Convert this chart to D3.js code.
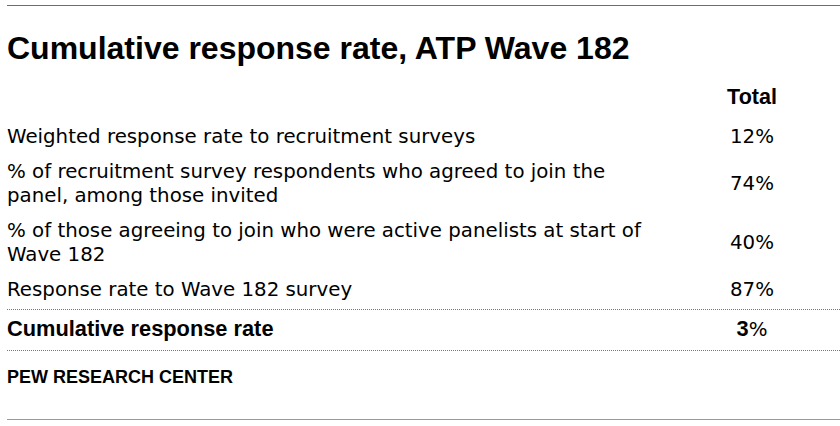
<!DOCTYPE html>
<html>
<head>
<meta charset="utf-8">
<script src="https://cdn.jsdelivr.net/npm/d3@7"></script>
<style>
  body { margin: 0; background: #fff; }
  svg { display: block; background: #fff; }
  .title { font-family: "Liberation Sans", Arial, sans-serif; font-weight: bold; font-size: 32px; fill: #000; }
  .head { font-family: "Liberation Sans", Arial, sans-serif; font-weight: bold; font-size: 21.5px; fill: #000; }
  .cell { font-family: "DejaVu Sans", sans-serif; font-size: 19.8px; fill: #000; }
  .total { font-family: "Liberation Sans", Arial, sans-serif; font-weight: bold; font-size: 21.8px; fill: #000; }
  .source { font-family: "Liberation Sans", Arial, sans-serif; font-weight: bold; font-size: 18px; fill: #000; }
</style>
</head>
<body>
<svg width="840" height="426"></svg>
<script>
const width = 840;
const height = 426;

const title = 'Cumulative response rate, ATP Wave 182';
const columnHead = 'Total';
const rowLabels = [
    ['Weighted response rate to recruitment surveys'],
    ['% of recruitment survey respondents who agreed to join the', 'panel, among those invited'],
    ['% of those agreeing to join who were active panelists at start of', 'Wave 182'],
    ['Response rate to Wave 182 survey']
];
const rowValues = [12, 74, 40, 87];
const totalLabel = 'Cumulative response rate';
const totalValue = 3;
const source = 'PEW RESEARCH CENTER';

const svg = d3.select('svg');

const margin = { left: 7, right: 0 };
const valueX = 752;
const lineH = 24;
const rowPad = 11;
const firstBaseline = 143;

// stack rows by their number of lines
let cursor = firstBaseline;
const rows = rowLabels.map((lines, i) => {
    const r = { lines: lines, value: rowValues[i], y: cursor };
    cursor += lines.length * lineH + rowPad;
    return r;
});
const lastRow = rows[rows.length - 1];
const sep1 = lastRow.y + 13;
const totalY = sep1 + 27;
const sep2 = totalY + 14;

// rules
svg.append('line')
    .attr('x1', margin.left).attr('x2', width)
    .attr('y1', 5.5).attr('y2', 5.5)
    .attr('stroke', '#6d6d6d').attr('stroke-width', 1.2);

svg.append('line')
    .attr('x1', margin.left).attr('x2', width)
    .attr('y1', 419.5).attr('y2', 419.5)
    .attr('stroke', '#9a9a9a').attr('stroke-width', 1.2);

svg.append('text')
    .attr('class', 'title')
    .attr('x', margin.left)
    .attr('y', 59)
    .text(title);

svg.append('text')
    .attr('class', 'head')
    .attr('x', valueX)
    .attr('y', 104)
    .attr('text-anchor', 'middle')
    .text(columnHead);

const rowG = svg.selectAll('.row')
    .data(rows)
    .enter()
    .append('g')
    .attr('class', 'row');

rowG.append('text')
    .attr('class', 'cell')
    .attr('x', margin.left)
    .attr('y', d => d.y)
    .selectAll('tspan')
    .data(d => d.lines)
    .enter()
    .append('tspan')
    .attr('x', margin.left)
    .attr('dy', (d, i) => i === 0 ? 0 : lineH)
    .text(d => d);

rowG.append('text')
    .attr('class', 'cell')
    .attr('x', valueX)
    .attr('y', d => d.y + (d.lines.length - 1) * lineH / 2)
    .attr('text-anchor', 'middle')
    .text(d => d.value + '%');

// dotted separators around the total row
svg.selectAll('.sep')
    .data([sep1, sep2])
    .enter()
    .append('line')
    .attr('class', 'sep')
    .attr('x1', margin.left).attr('x2', width)
    .attr('y1', d => d + 0.5).attr('y2', d => d + 0.5)
    .attr('stroke', '#777')
    .attr('stroke-width', 1)
    .attr('stroke-dasharray', '1,1');

svg.append('text')
    .attr('class', 'total')
    .attr('x', margin.left)
    .attr('y', totalY)
    .text(totalLabel);

const tv = svg.append('text')
    .attr('x', valueX)
    .attr('y', totalY)
    .attr('text-anchor', 'middle');
tv.append('tspan')
    .attr('class', 'total')
    .text(totalValue);
tv.append('tspan')
    .attr('class', 'cell')
    .text('%');

svg.append('text')
    .attr('class', 'source')
    .attr('x', margin.left)
    .attr('y', 383)
    .text(source);
</script>
</body>
</html>
